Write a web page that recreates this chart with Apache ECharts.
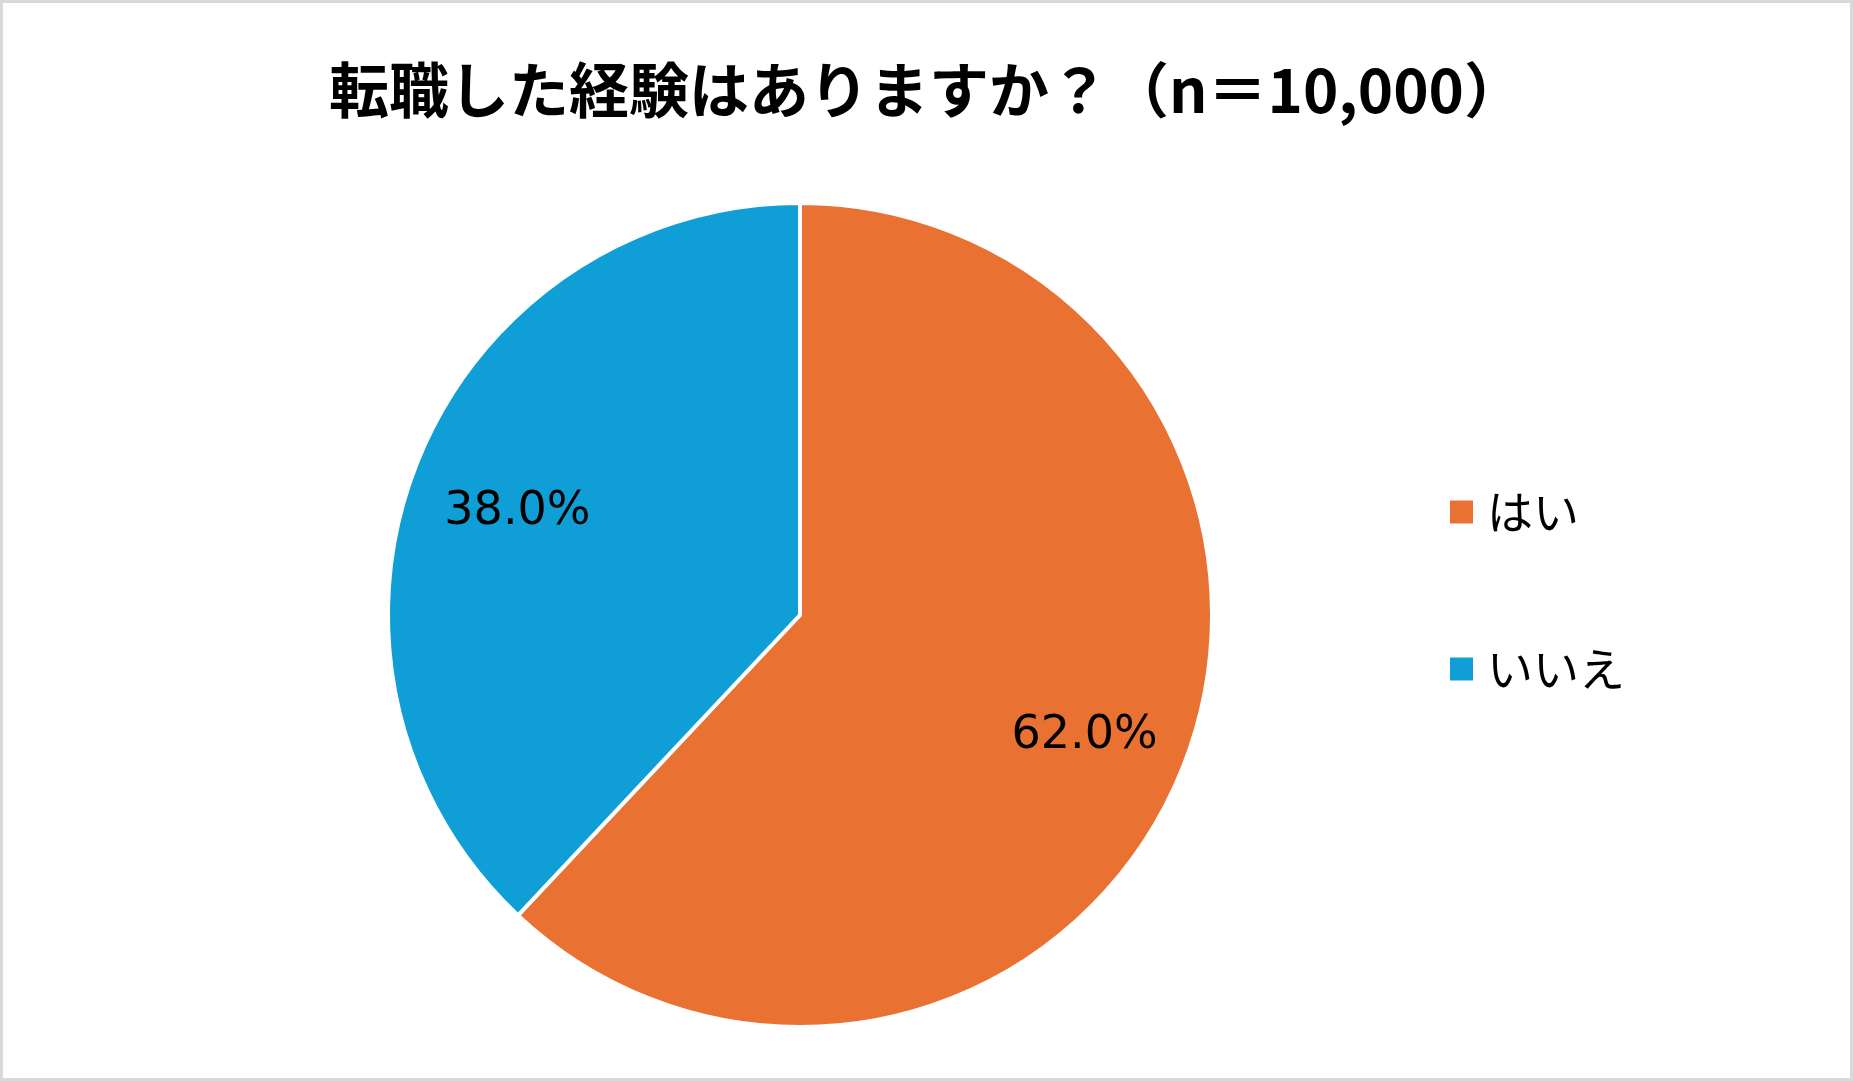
<!DOCTYPE html>
<html>
<head>
<meta charset="utf-8">
<script src="https://cdn.jsdelivr.net/npm/echarts@6/dist/echarts.min.js"></script>
<style>
  html, body { margin: 0; padding: 0; background: #fff; }
  #container {
    width: 1853px;
    height: 1081px;
    box-sizing: border-box;
    border: 3px solid #d9d9d9;
  }
</style>
</head>
<body>
<div id="container"></div>
<script>
const titleText = "転職した経験はありますか？（n＝10,000）";
const categories = ["はい", "いいえ"];
const shares = [62.0, 38.0];
const colors = ["#E97132", "#0F9ED5"];

const font = '"Noto Sans CJK JP", "Noto Sans", sans-serif';
const numFont = '"DejaVu Sans", sans-serif';

const dom = document.getElementById("container");
const myChart = echarts.init(dom, null, { renderer: "canvas" });

const pieData = categories.map(function (name, i) {
  return { name: name, value: shares[i], itemStyle: { color: colors[i] } };
});

const option = {
  animation: false,
  title: {
    text: titleText,
    left: "center",
    top: 52,
    textStyle: {
      fontFamily: font,
      fontWeight: "bold",
      fontSize: 60,
      color: "#000",
    },
  },
  legend: {
    orient: "vertical",
    left: 1440,
    top: 480,
    itemWidth: 25,
    itemHeight: 25,
    itemGap: 109,
    icon: "rect",
    data: categories,
    textStyle: {
      fontFamily: font,
      fontSize: 46,
      lineHeight: 48,
      color: "#000",
      padding: [0, 0, 0, 8],
    },
  },
  series: [
    {
      type: "pie",
      center: [797, 612],
      radius: [0, 412],
      startAngle: 90,
      clockwise: true,
      silent: true,
      label: { show: false },
      labelLine: { show: false },
      itemStyle: { borderColor: "#fff", borderWidth: 4 },
      data: pieData,
    },
    {
      // invisible ring, only used to place the labels further out
      type: "pie",
      center: [798, 621],
      radius: [192, 412],
      startAngle: 90,
      clockwise: true,
      silent: true,
      legendHoverLink: false,
      itemStyle: { color: "transparent" },
      label: {
        show: true,
        position: "inside",
        fontFamily: numFont,
        fontSize: 46,
        color: "#000",
        formatter: function (p) {
          return p.value.toFixed(1) + "%";
        },
      },
      labelLine: { show: false },
      data: categories.map(function (name, i) {
        return { name: name, value: shares[i] };
      }),
    },
  ],
};

myChart.setOption(option);
window.addEventListener("resize", myChart.resize);
</script>
</body>
</html>
